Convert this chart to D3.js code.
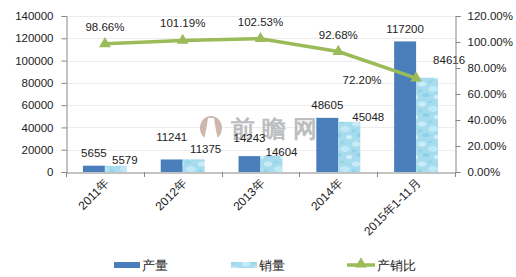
<!DOCTYPE html>
<html><head><meta charset="utf-8">
<script src="https://cdn.jsdelivr.net/npm/d3@7"></script>
<style>
html,body{margin:0;padding:0;background:#fff;}
svg{display:block;}
text{font-family:"Liberation Sans",Arial,sans-serif;fill:#222;}
</style></head>
<body>
<svg id="chart" width="516" height="277"></svg>
<script>
// ---- data ----
const categories = ["2011年", "2012年", "2013年", "2014年", "2015年1-11月"];
const production = [5655, 11241, 14243, 48605, 117200];
const sales = [5579, 11375, 14604, 45048, 84616];
const ratio = [0.9866, 1.0119, 1.0253, 0.9268, 0.7220];
const ratioLabels = ["98.66%", "101.19%", "102.53%", "92.68%", "72.20%"];
const leftTicks = [0, 20000, 40000, 60000, 80000, 100000, 120000, 140000];
const rightTicks = [0, 0.2, 0.4, 0.6, 0.8, 1.0, 1.2];
const seriesNames = ["产量", "销量", "产销比"];

// ---- layout (label nudges) ----
const prodLabelUp = [13, 22, 18, 13, 12];
const salesLabelDx = [9, 12, 10, 19, 22];
const salesLabelUp = [6, 10, 4, 5, 18];
const ratioLabelDx = [0, 0, 0, 0, -54];
const ratioLabelDy = [-17, -17, -17, -17, 2];

const svg = d3.select("#chart");
const L = 66, R = 455, T = 16, B = 172;
const colProd = "#4a7ebb", colLine = "#9bbb59", axisCol = "#868686";

const x = d3.scaleBand().domain(categories).range([L, R]).padding(0);
const sub = d3.scaleBand().domain(["p", "s"]).range([0, x.bandwidth()]).paddingInner(0).paddingOuter(0.77);
const yL = d3.scaleLinear().domain([0, 140000]).range([B, T]);
const yR = d3.scaleLinear().domain([0, 1.2]).range([B, T]);

// pattern for sales bars
const defs = svg.append("defs");
const pat = defs.append("pattern").attr("id", "water").attr("patternUnits", "userSpaceOnUse")
  .attr("width", 22).attr("height", 20);
pat.append("rect").attr("width", 22).attr("height", 20).attr("fill", "#a6dcee");
[[4,4,4,2.5,"#cdeefa"],[15,9,5,3,"#c3e9f7"],[8,15,3.5,2,"#8ccfe6"],[19,17,3,2,"#d6f2fb"],[2,11,2.5,2,"#93d3e9"],[12,2,2.5,1.5,"#93d3e9"]]
  .forEach(e => pat.append("ellipse").attr("cx", e[0]).attr("cy", e[1]).attr("rx", e[2]).attr("ry", e[3]).attr("fill", e[4]).attr("opacity", 0.9));

// gridlines
svg.append("g").selectAll("line").data(leftTicks.slice(1)).join("line")
  .attr("x1", L).attr("x2", R).attr("y1", d => Math.round(yL(d)) + 0.5).attr("y2", d => Math.round(yL(d)) + 0.5)
  .attr("stroke", "#ececec").attr("stroke-width", 1);

// watermark
const wm = svg.append("g");
wm.append("ellipse").attr("cx", 211).attr("cy", 128).attr("rx", 11).attr("ry", 12).attr("fill", "#cdb7ad");
wm.append("path").attr("d", "M208,118 L214,118 L215,125 L218,140 L204,140 L207,125 Z").attr("fill", "#fff");
wm.append("text").attr("x", 231).attr("y", 137).attr("font-size", 24).attr("font-weight", "bold")
  .attr("letter-spacing", 7)
  .attr("font-family", "Noto Sans CJK SC").style("fill", "#bdbdc0").text("前瞻网");

// bars
const gb = svg.append("g");
gb.selectAll("rect.p").data(production).join("rect").attr("class", "p")
  .attr("x", (d, i) => x(categories[i]) + sub("p")).attr("width", sub.bandwidth())
  .attr("y", d => yL(d)).attr("height", d => B - yL(d)).attr("fill", colProd);
gb.selectAll("rect.s").data(sales).join("rect").attr("class", "s")
  .attr("x", (d, i) => x(categories[i]) + sub("s")).attr("width", sub.bandwidth())
  .attr("y", d => yL(d)).attr("height", d => B - yL(d)).attr("fill", "url(#water)");

// bar labels
gb.selectAll("text.pl").data(production).join("text").attr("class", "pl")
  .attr("x", (d, i) => x(categories[i]) + sub("p") + sub.bandwidth() / 2)
  .attr("y", (d, i) => yL(d) - prodLabelUp[i] + 4)
  .attr("text-anchor", "middle").attr("font-size", 11.5).text(d => d);
gb.selectAll("text.sl").data(sales).join("text").attr("class", "sl")
  .attr("x", (d, i) => x(categories[i]) + sub("s") + sub.bandwidth() / 2 + salesLabelDx[i])
  .attr("y", (d, i) => yL(d) - salesLabelUp[i] + 4)
  .attr("text-anchor", "middle").attr("font-size", 11.5).text(d => d);

// axes
const axL = svg.append("g").attr("transform", `translate(${L + 0.5},0)`)
  .call(d3.axisLeft(yL).tickValues(leftTicks).tickSize(5).tickPadding(8).tickFormat(d3.format("d")));
const axR = svg.append("g").attr("transform", `translate(${R + 0.5},0)`)
  .call(d3.axisRight(yR).tickValues(rightTicks).tickSize(5).tickPadding(7).tickFormat(d3.format(".2%")));
const axB = svg.append("g").attr("transform", `translate(0,${B + 0.5})`)
  .call(d3.axisBottom(x).tickSize(0).tickFormat(""));
[axL, axR].forEach(a => {
  a.select(".domain").attr("stroke", axisCol);
  a.selectAll(".tick line").attr("stroke", axisCol);
  a.selectAll(".tick text").attr("font-size", 11.5).attr("font-family", "Liberation Sans").style("fill", "#222");
});
axB.select(".domain").attr("stroke", axisCol);
// category boundary ticks
svg.append("g").selectAll("line").data(categories.concat(["__end"])).join("line")
  .attr("x1", (d, i) => Math.round(L + i * x.step()) + 0.5).attr("x2", (d, i) => Math.round(L + i * x.step()) + 0.5)
  .attr("y1", B).attr("y2", B + 5).attr("stroke", axisCol);
// category labels
svg.append("g").selectAll("text").data(categories).join("text")
  .attr("transform", d => `translate(${x(d) + x.bandwidth() / 2 + 5},${B + 12}) rotate(-45)`)
  .attr("text-anchor", "end").attr("font-size", 12).attr("font-family", "Noto Sans CJK SC, Liberation Sans")
  .text(d => d);

// line
const lx = (d, i) => x(categories[i]) + x.bandwidth() / 2;
const gl = svg.append("g");
gl.append("path").datum(ratio)
  .attr("d", d3.line().x(lx).y(d => yR(d)))
  .attr("fill", "none").attr("stroke", colLine).attr("stroke-width", 3.5).attr("stroke-linejoin", "round");
const tri = d3.symbol().type(d3.symbolTriangle).size(60);
gl.selectAll("path.m").data(ratio).join("path").attr("class", "m")
  .attr("transform", (d, i) => `translate(${lx(d, i)},${yR(d)})`).attr("d", tri).attr("fill", colLine);
gl.selectAll("text").data(ratioLabels).join("text")
  .attr("x", (d, i) => lx(ratio[i], i) + ratioLabelDx[i])
  .attr("y", (d, i) => yR(ratio[i]) + ratioLabelDy[i] + 4)
  .attr("text-anchor", "middle").attr("font-size", 11.5).text(d => d);

// legend
const lg = svg.append("g");
lg.append("rect").attr("x", 114).attr("y", 262).attr("width", 26).attr("height", 6).attr("fill", colProd);
lg.append("text").attr("x", 142).attr("y", 270).attr("font-size", 13).attr("font-family", "Noto Sans CJK SC").text(seriesNames[0]);
lg.append("rect").attr("x", 231).attr("y", 262).attr("width", 26).attr("height", 6).attr("fill", "url(#water)");
lg.append("text").attr("x", 259).attr("y", 270).attr("font-size", 13).attr("font-family", "Noto Sans CJK SC").text(seriesNames[1]);
lg.append("line").attr("x1", 347).attr("x2", 375).attr("y1", 265).attr("y2", 265).attr("stroke", colLine).attr("stroke-width", 3.5);
lg.append("path").attr("transform", "translate(361,264)").attr("d", tri).attr("fill", colLine);
lg.append("text").attr("x", 377).attr("y", 270).attr("font-size", 13).attr("font-family", "Noto Sans CJK SC").text(seriesNames[2]);
</script>
</body></html>
